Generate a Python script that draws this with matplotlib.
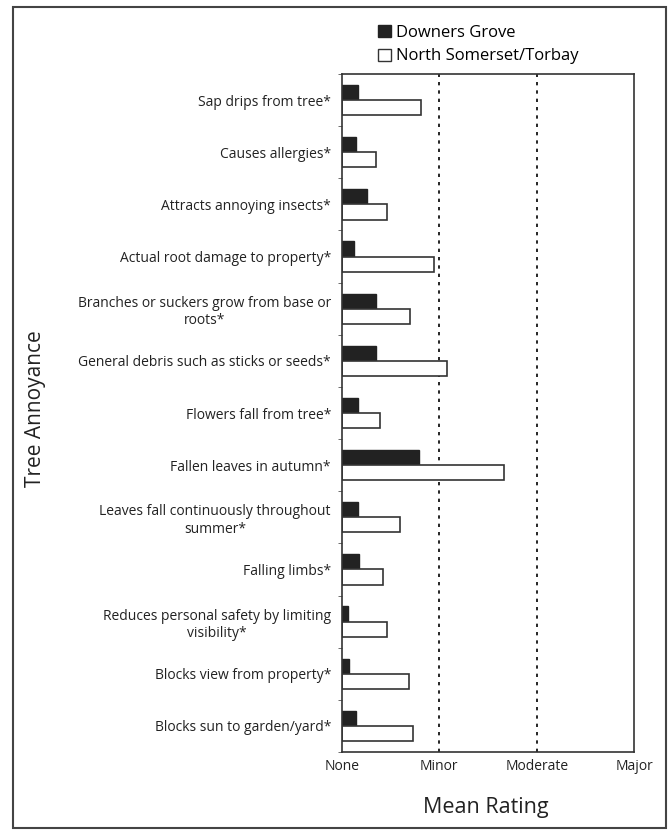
import numpy as np
import matplotlib.pyplot as plt
from matplotlib.patches import Rectangle, Patch

plt.rcParams['font.family'] = ['Open Sans', 'DejaVu Sans']

annoyances = [
    "Sap drips from tree*",
    "Causes allergies*",
    "Attracts annoying insects*",
    "Actual root damage to property*",
    "Branches or suckers grow from base or\nroots*",
    "General debris such as sticks or seeds*",
    "Flowers fall from tree*",
    "Fallen leaves in autumn*",
    "Leaves fall continuously throughout\nsummer*",
    "Falling limbs*",
    "Reduces personal safety by limiting\nvisibility*",
    "Blocks view from property*",
    "Blocks sun to garden/yard*",
]
downers_grove = [0.16, 0.14, 0.26, 0.12, 0.35, 0.35, 0.16, 0.79, 0.16, 0.17, 0.06, 0.075, 0.14]
north_somerset = [0.81, 0.35, 0.46, 0.94, 0.70, 1.08, 0.39, 1.66, 0.60, 0.42, 0.46, 0.69, 0.73]
rating_labels = ["None", "Minor", "Moderate", "Major"]

fig = plt.figure(figsize=(6.71, 8.30), dpi=100)
ax = fig.add_axes([0.5097, 0.094, 0.4352, 0.8168])

y = np.arange(len(annoyances))
h = 0.29
ax.barh(y - h / 2, downers_grove, height=h, color="#222222", edgecolor="#222222", linewidth=1)
ax.barh(y + h / 2, north_somerset, height=h, color="white", edgecolor="#333333", linewidth=1.2)

for xv in [1, 2]:
    ax.axvline(xv, color="black", linestyle=(0, (2, 3)), linewidth=1.2, zorder=0)

ax.set_xlim(0, 3)
ax.set_ylim(len(annoyances) - 0.5, -0.5)
ax.set_xticks(range(4))
ax.set_xticklabels(rating_labels, fontsize=10, color="#222222")
ax.set_yticks(y)
ax.set_yticklabels(annoyances, fontsize=10, color="#222222", multialignment="center")
ax.set_yticks(np.arange(-0.5, len(annoyances), 1), minor=True)
ax.tick_params(axis="y", which="major", length=0, pad=8)
ax.tick_params(axis="x", which="major", length=0, pad=5)
ax.tick_params(axis="y", which="minor", length=3, color="#555555")

for s in ax.spines.values():
    s.set_color("#333333")
    s.set_linewidth(1.2)

fig.text(0.053, 0.508, "Tree Annoyance", rotation=90, fontsize=15, ha="center", va="center", color="#222222")
fig.text(0.724, 0.027, "Mean Rating", fontsize=15.5, ha="center", va="center", color="#222222")

handles = [Patch(facecolor="#222222", edgecolor="#222222"),
           Patch(facecolor="white", edgecolor="#333333")]
fig.legend(handles, ["Downers Grove", "North Somerset/Torbay"], loc="upper left",
           bbox_to_anchor=(0.541, 0.988), frameon=False, fontsize=12,
           handlelength=0.75, handleheight=0.75, handletextpad=0.35, labelspacing=0.45)

fig.patches.append(Rectangle((0.019, 0.002), 0.973, 0.989, transform=fig.transFigure,
                             fill=False, edgecolor="#444444", linewidth=1.5))

fig.savefig("out.png", dpi=100)
